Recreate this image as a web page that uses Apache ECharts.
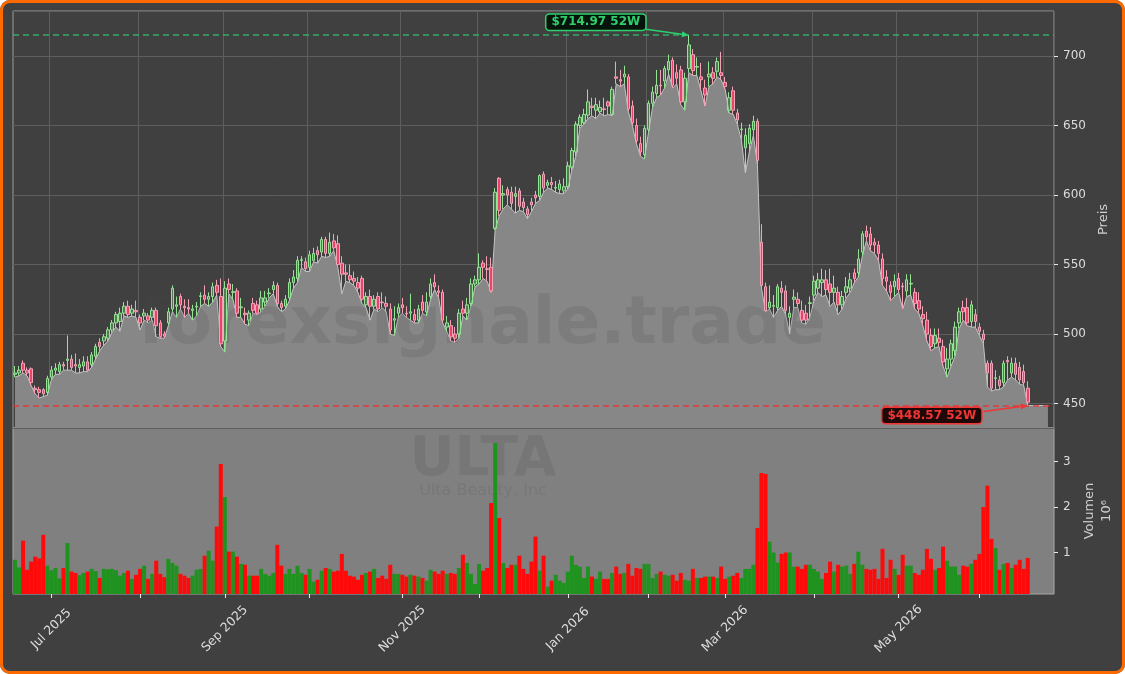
<!DOCTYPE html>
<html lang="de">
<head>
<meta charset="utf-8">
<title>ULTA</title>
<script src="https://cdn.jsdelivr.net/npm/echarts@6/dist/echarts.min.js"></script>
<style>
    html, body { margin: 0; padding: 0; background: #ffffff; }
    #chart { width: 1125px; height: 674px; background: #404040; border-radius: 10px; box-shadow: inset 0 0 0 3px #ff6a00; }
</style>
</head>
<body>
<div id="chart"></div>
<script>
    // Handelstage 17.06.2025 - 17.06.2026 (US-Feiertage ausgenommen)
    var firstDay = '2025-06-17';
    var lastDay = '2026-06-17';
    var holidays = ['2025-06-19', '2025-07-04', '2025-09-01', '2025-11-27', '2025-12-25',
                    '2026-01-01', '2026-01-19', '2026-02-16', '2026-04-03', '2026-05-25'];
    var monthNames = ['Jan', 'Feb', 'Mar', 'Apr', 'May', 'Jun', 'Jul', 'Aug', 'Sep', 'Oct', 'Nov', 'Dec'];

    var opens = [
        471,472,479,474,475,461,460,460,458,469,474,473,478,481,482,478,476,477,480,478,
        484,494,495,497,503,508,509,515,520,515,517,512,513,513,512,517,508,500,508,518,
        520,527,520,519,517,519.5,527,528,525,527,535,527,495,536,530,531,519,515,510,522,
        521,518,523,529,532,535,522,520,526,537,540,553,552,548,553,560,559,568,558,567,
        565,551,544,542,540,537,540,521,527,520,527,523,522,518,510,515,521,515,515,514,
        510,523,516,527,537,531,530,505,506,500,500,518,515,522,536,539,551,547,548,576,
        612,600,604,602,599,603,595,590,595,600,599,615,607,609,605,604,603,606,620,631,
        650,652,657.5,664,661,660,662,667,658,685,683,685,685,664,650,637,629,647,666,673,
        679,682,690,697,688,690,667,691,701,692,685,677,685,688,689,688,681,661,675,659,
        647,634,637,647,653,566,534,519,520,519,533,531,512,525,525,517,515,522,528,533,
        537,539,536,530,530,521,530,533,544,544,559,574,572,566,564,554,541,535,534,540,
        534.5,531,536,530,524,514,510,499,493,497,491,475,482,488,508,519,519,509,514,505,
        500,479,479,468,467,465,481,472,479,476,473,461
    ];
    var closes = [
        472,474,474,472,465,460,458,457,468,474,475.5,478,477,482,476,477,478,480,474,485,
        491,491,498,503,508,514,515,520,514,518,516,508,515,510,517,506,498,498.5,516,533,
        521,521,519,518,518,520,527.5,525,527,534,530,493,533,532,530.5,515,519.5,514,515,517,
        515,526,526,529.5,535,522,519,525,537,541,553,553.5,547,557,558,557,568,558,566,562,
        550,543,543,539,538,533,525,527,520,525,518,522.5,520,503,511,519,519,514.5,516,510,
        518,517,523,536,534,530,510,508,498,497,515,515,521,536,539,548,548,546.5,531,602,
        589,601,600,594,601,592,591,586,593,598,614,605,609,607.5,605.5,608,606,621,632,651,
        656,658,667,663,665,663,661.5,664,676,684,682,687,662,652,639,631,648,666,674,679,
        678.5,691,696,679,684,667,684,708,689.5,692.5,683,672,687,684,696,686,678,670,661,654,
        647.5,643,648,653,625,535,517,523,520.5,534,530,517,515,526.5,522,510,510,522.5,538,539,
        539,532,530,533,521,527,534,539,540,554,572,570,564,564,558,540,538,530,538,532,
        534,539,536.5,522,518,511,500,491,499,494,480,482,493,505,516,516,508,521,509,502,
        496,472,461,468.5,463,479,480,479,471,467,465,451
    ];
    var lows = [
        469,470,472,470,463,457,454,455,456,467,471,471,474,474,474,472,472,473,473,476,
        482,488,492,495,501,505,502,513,512,513,512,503,510,508,510,498,497,497,506,516,
        512,518,512,515,510,513,520,522,520,523,528,491,487,529,525,512,512,507,506,515,
        514,516,520,526,529,520,516,518,524,533,537,548,545,545,552,551,556,555,556,560,
        548,529,538,537,535,530,522,519,510,518,516,519,516,500,499,512,515,512,510,508,
        508,515,513,525,532,526,508,502,495,494,497,513,510,520,534,536,540,538,530,575,
        585,590,593,590,587,589,588,583,588,594,596,602,605,604,602,601,601,604,618,628,
        648,651,655,657,655,659,657,658,657,680,678,680,660,650,637,628,626,645,663,670,
        672,677,687,677,680,665,661,688,686,686,675,664,678,680,685,683,676,659,658,651,
        640,616,631,643,622,533,516,518,512,517,520,514,500,519,519,508,507,512,524,530,
        527,528,520,523,514,518,526,530,537,541,556,567,560,558,553,535,531,524,527,530,
        518,527,528,518,515,506,495,488,490,491,477,469,477,484,504,510,506,505,505,499,
        493,462,459,460,460,462,467,469,467,464,463,448.57
    ];
    var highs = [
        477,477,481,476,476,463,462,461,470,477,479,480,480,499,485,486,482,484,484,487,
        493,497,500,505,510,516,519,523,524,521,524,514,518,515,519,519,510,502,519,535,
        527,529,525,525,521,523,530,535,530,537,539,540,538,540,536,533,526,519,517,526,
        524,531,531,533,538,537,524,528,540,546,556,556,555,560,562,563,570,570,573,572,
        571,556,550,550,545,541,542,530,532,528,530,530,527,522,520,522,526,520,529,518,
        521,528,530,540,543,535,532,513,510,505,518,524,526,540,542,558,553,556,555,605,
        613,607,606,606,606,605,598,592,598,603,615,617,611,613,610,611,612,624,634,653,
        658,662,676,670,670,668,670,668,678,696,690,693,687,668,655,642,650,668,678,690,
        690,693,701,699,694,693,688,714.97,705,699,695,683,696,692,699,703,685,674,678,662,
        652,648,651,657,655,579,537,535,528,536,538,535,520,532,530,524,521,527,542,544,
        547,546,547,542,534,531,541,544,547,561,574,578,577,569,567,558,546,538,543,544,
        537,543,543,533,530,520,516,504,504,504,496,490,496,509,519,524,526,524,518,508,
        503,481,481,474,470,481,484,483,483,480,478,466
    ];
    // Volumen in Mio. Stück
    var volumes = [
        0.84,0.67,1.26,0.62,0.80,0.91,0.87,1.39,0.71,0.61,0.66,0.43,0.66,1.21,0.58,0.55,0.50,0.55,0.58,0.64,
        0.59,0.44,0.64,0.63,0.64,0.61,0.49,0.55,0.60,0.42,0.51,0.64,0.71,0.42,0.53,0.82,0.53,0.46,0.86,0.77,
        0.71,0.53,0.49,0.44,0.49,0.62,0.64,0.93,1.04,0.82,1.57,2.95,2.22,1.02,1.02,0.91,0.75,0.73,0.49,0.49,
        0.49,0.64,0.53,0.49,0.55,1.17,0.71,0.53,0.64,0.53,0.71,0.55,0.51,0.64,0.36,0.40,0.60,0.66,0.64,0.58,
        0.60,0.97,0.60,0.49,0.47,0.40,0.51,0.55,0.58,0.64,0.44,0.49,0.42,0.73,0.53,0.53,0.51,0.47,0.51,0.49,
        0.47,0.44,0.38,0.62,0.58,0.53,0.60,0.53,0.55,0.53,0.66,0.95,0.77,0.53,0.31,0.75,0.60,0.66,2.09,3.41,
        1.76,0.77,0.66,0.73,0.73,0.93,0.64,0.53,0.80,1.35,0.60,0.93,0.25,0.38,0.51,0.38,0.33,0.58,0.93,0.73,
        0.69,0.44,0.69,0.47,0.42,0.58,0.42,0.42,0.55,0.69,0.53,0.55,0.75,0.49,0.66,0.64,0.75,0.75,0.44,0.53,
        0.58,0.51,0.49,0.51,0.38,0.55,0.40,0.38,0.64,0.44,0.44,0.47,0.47,0.47,0.44,0.69,0.42,0.47,0.49,0.55,
        0.44,0.64,0.64,0.73,1.54,2.75,2.73,1.24,1.00,0.78,0.97,1.00,1.00,0.69,0.69,0.64,0.73,0.73,0.64,0.58,
        0.42,0.55,0.80,0.58,0.73,0.69,0.71,0.53,0.75,1.02,0.73,0.64,0.62,0.64,0.42,1.08,0.44,0.84,0.64,0.51,
        0.95,0.71,0.71,0.55,0.51,0.62,1.08,0.86,0.62,0.66,1.13,0.82,0.69,0.69,0.51,0.71,0.69,0.75,0.84,0.97,
        2.00,2.47,1.30,1.10,0.62,0.75,0.77,0.66,0.73,0.84,0.64,0.88
    ];
    // Flaeche laeuft nach der letzten Kerze noch ein Stueck weiter
    var lowTail = [448.57, 448.57, 448.57, 448.57, 448.57];
    var emptySlots = 6;

    function pad(n) { return (n < 10 ? '0' : '') + n; }
    var dates = [];
    var d = new Date(firstDay + 'T00:00:00Z');
    var stop = new Date(lastDay + 'T00:00:00Z');
    while (d <= stop) {
        var s = d.getUTCFullYear() + '-' + pad(d.getUTCMonth() + 1) + '-' + pad(d.getUTCDate());
        var wd = d.getUTCDay();
        if (wd !== 0 && wd !== 6 && holidays.indexOf(s) < 0) dates.push(s);
        d = new Date(d.getTime() + 86400000);
    }
    var categories = dates.slice();
    for (var k = 0; k < emptySlots; k++) categories.push('');

    function isMonthStart(i) {
        return i > 0 && i < dates.length && dates[i].slice(5, 7) !== dates[i - 1].slice(5, 7);
    }
    function isLabelMonth(i) {
        return isMonthStart(i) && parseInt(dates[i].slice(5, 7), 10) % 2 === 1;
    }

    var candleData = dates.map(function (x, i) { return [opens[i], closes[i], lows[i], highs[i]]; });
    var areaData = lows.concat(lowTail);
    var upVol = '#1f921f', downVol = '#ff0a0a';
    var volData = volumes.map(function (v, i) {
        return { value: v, itemStyle: { color: closes[i] >= opens[i] ? upVol : downVol } };
    });

    var hiIdx = highs.indexOf(Math.max.apply(null, highs));
    var loIdx = lows.indexOf(Math.min.apply(null, lows));
    var hiVal = highs[hiIdx], loVal = lows[loIdx];

    var txt = '#dcdcdc';
    var font = 'DejaVu Sans';
    var chart = echarts.init(document.getElementById('chart'));

    chart.setOption({
        animation: false,
        backgroundColor: 'transparent',
        textStyle: { fontFamily: font },
        grid: [
            { left: 13, right: 71, top: 11, height: 417, show: true, borderColor: '#9c9c9c', borderWidth: 1, backgroundColor: 'transparent' },
            { left: 13, right: 71, top: 428, height: 166, show: true, borderColor: '#a8a8a8', borderWidth: 1, backgroundColor: '#808080' }
        ],
        xAxis: [
            {
                type: 'category', gridIndex: 0, data: categories,
                axisLine: { show: false }, axisTick: { show: false }, axisLabel: { show: false },
                splitLine: { show: true, interval: function (i) { return isMonthStart(i); }, lineStyle: { color: '#5e5e5e', width: 1 } }
            },
            {
                type: 'category', gridIndex: 1, data: categories,
                axisLine: { show: false },
                axisTick: { show: true, alignWithLabel: true, length: 4, interval: function (i) { return isMonthStart(i); }, lineStyle: { color: '#e8e8e8' } },
                axisLabel: {
                    interval: function (i) { return isLabelMonth(i); },
                    formatter: function (v) { return v ? monthNames[parseInt(v.slice(5, 7), 10) - 1] + ' ' + v.slice(0, 4) : ''; },
                    rotate: 45, align: 'center', verticalAlign: 'middle', margin: 35,
                    color: txt, fontSize: 12.5, fontFamily: font
                },
                splitLine: { show: false }
            }
        ],
        yAxis: [
            {
                type: 'value', gridIndex: 0, position: 'right', min: 432.4, max: 732.4, scale: true,
                name: 'Preis', nameLocation: 'middle', nameGap: 42,
                nameTextStyle: { color: '#cfcfcf', fontSize: 13, fontFamily: font },
                axisLine: { show: false },
                axisTick: { show: true, length: 4, lineStyle: { color: '#e8e8e8' } },
                axisLabel: { color: txt, fontSize: 12, margin: 9, showMinLabel: false, showMaxLabel: false, fontFamily: font },
                splitLine: { show: true, lineStyle: { color: '#5e5e5e', width: 1 } }
            },
            {
                type: 'value', gridIndex: 1, position: 'right', min: 0.087, max: 3.74,
                name: 'Volumen\n10\u2076', nameLocation: 'middle', nameGap: 24,
                nameTextStyle: { color: '#cfcfcf', fontSize: 13, lineHeight: 17, fontFamily: font },
                axisLine: { show: false },
                axisTick: { show: true, length: 4, lineStyle: { color: '#e8e8e8' } },
                axisLabel: { color: txt, fontSize: 12, margin: 9, showMinLabel: false, showMaxLabel: false, fontFamily: font },
                splitLine: { show: false }
            }
        ],
        series: [
            {
                name: 'Tief', type: 'line', xAxisIndex: 0, yAxisIndex: 0, data: areaData, z: 1,
                symbol: 'none', lineStyle: { color: '#c4c4c4', width: 1 },
                areaStyle: { color: '#878787', opacity: 1, origin: 'start' }
            },
            {
                name: 'ULTA', type: 'candlestick', xAxisIndex: 0, yAxisIndex: 0, data: candleData, z: 5,
                barWidth: 3,
                itemStyle: {
                    color: 'rgba(110,190,110,0.45)', color0: '#e8456c',
                    borderColor: '#93e593', borderColor0: '#f4a2b5', borderWidth: 1
                },
                markLine: {
                    silent: true, symbol: ['none', 'none'], label: { show: false },
                    data: [
                        { yAxis: hiVal, lineStyle: { color: 'rgba(50,190,110,0.85)', type: [6, 4], width: 1.5 } },
                        { yAxis: loVal, lineStyle: { color: 'rgba(235,50,50,0.9)', type: [6, 4], width: 1.5 } }
                    ]
                }
            },
            {
                name: 'Volumen', type: 'bar', xAxisIndex: 1, yAxisIndex: 1, data: volData, z: 5,
                barCategoryGap: '0%'
            }
        ],
        graphic: [
            { type: 'text', z: 3, silent: true, id: 'wm1',
              style: { text: 'forexsignale.trade', x: 482, y: 326, textAlign: 'center', textVerticalAlign: 'middle',
                       font: 'bold 66px "DejaVu Sans"', fill: 'rgba(70,70,70,0.17)' } },
            { type: 'text', z: 3, silent: true, id: 'wm2',
              style: { text: 'ULTA', x: 483, y: 461, textAlign: 'center', textVerticalAlign: 'middle',
                       font: 'bold 55px "DejaVu Sans"', fill: 'rgba(60,60,60,0.14)' } },
            { type: 'text', z: 3, silent: true, id: 'wm3',
              style: { text: 'Ulta Beauty, Inc', x: 483, y: 491, textAlign: 'center', textVerticalAlign: 'middle',
                       font: '16px "DejaVu Sans"', fill: 'rgba(60,60,60,0.13)' } }
        ]
    });

    // 52W Hoch/Tief Beschriftung mit Pfeil
    function arrow(id, x1, y1, x2, y2, color) {
        var dx = x2 - x1, dy = y2 - y1, len = Math.sqrt(dx * dx + dy * dy);
        var ux = dx / len, uy = dy / len, hl = 7, hw = 3;
        var bx = x2 - ux * hl, by = y2 - uy * hl;
        return [
            { type: 'line', id: id + 'l', z: 10, silent: true, shape: { x1: x1, y1: y1, x2: bx, y2: by }, style: { stroke: color, lineWidth: 1.5 } },
            { type: 'polygon', id: id + 'h', z: 10, silent: true, shape: { points: [[x2, y2], [bx - uy * hw, by + ux * hw], [bx + uy * hw, by - ux * hw]] }, style: { fill: color } }
        ];
    }
    function badge(id, text, x, y, fg, bg) {
        return { type: 'text', id: id, z: 11, silent: true,
                 style: { text: text, x: x, y: y, textAlign: 'center', textVerticalAlign: 'middle',
                          font: 'bold 12px "DejaVu Sans"', fill: fg, backgroundColor: bg,
                          borderColor: fg, borderWidth: 1.5, borderRadius: 3, padding: [2, 5, 1, 5] } };
    }
    var pHi = chart.convertToPixel({ xAxisIndex: 0, yAxisIndex: 0 }, [hiIdx, hiVal]);
    var pLo = chart.convertToPixel({ xAxisIndex: 0, yAxisIndex: 0 }, [loIdx, loVal]);
    var green = '#2fcf6e', red = '#f03535';
    var extra = []
        .concat(arrow('ah', pHi[0] - 43, pHi[1] - 6, pHi[0], pHi[1], green))
        .concat(arrow('al', pLo[0] - 44, pLo[1] + 6, pLo[0], pLo[1], red));
    extra.push(badge('bh', '$' + hiVal.toFixed(2) + ' 52W', pHi[0] - 93, pHi[1] - 13, green, '#07140b'));
    extra.push(badge('bl', '$' + loVal.toFixed(2) + ' 52W', pLo[0] - 96, pLo[1] + 10, red, '#1e0808'));
    chart.setOption({ graphic: extra });
</script>
</body>
</html>
